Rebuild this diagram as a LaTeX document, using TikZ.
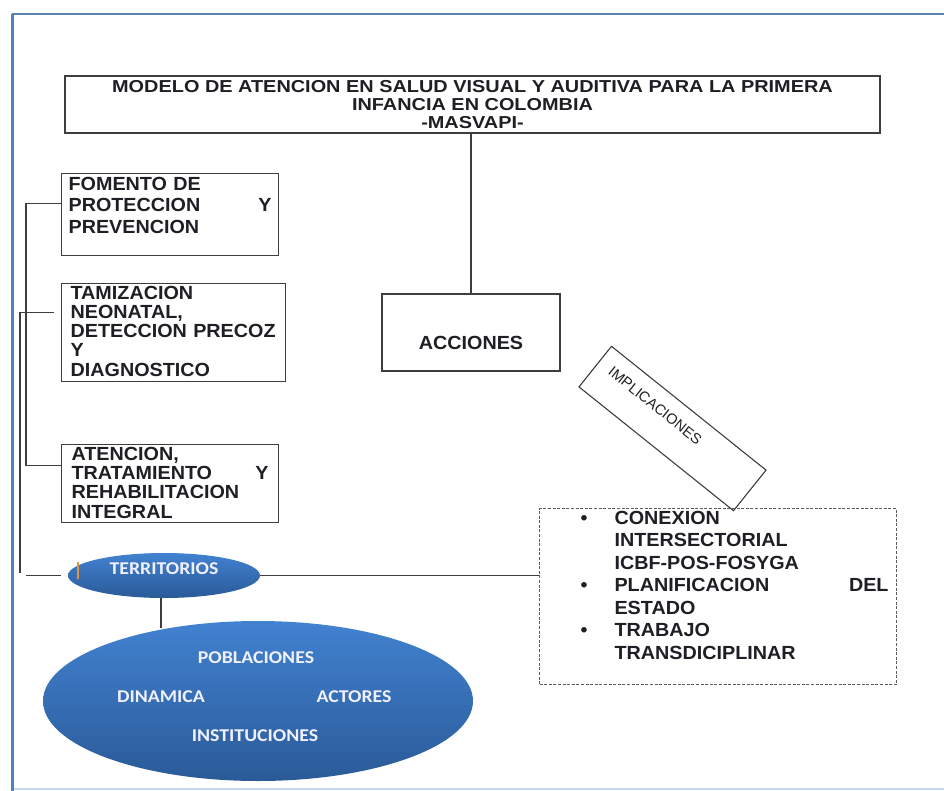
\documentclass[tikz,border=0pt]{standalone}
\usepackage{fontspec}
\setmainfont{Liberation Sans}
\newfontfamily\cajafont[FakeStretch=1.04]{Liberation Sans}
\newfontfamily\titulofont[FakeStretch=1.15]{Liberation Sans}
\newfontfamily\elipsefont[FakeStretch=1.1]{Carlito}
\usetikzlibrary{positioning,shapes.geometric}

\definecolor{marcoazul}{RGB}{79,129,189}
\definecolor{marcoclaro}{RGB}{200,216,236}
\definecolor{elipsearriba}{RGB}{66,130,208}
\definecolor{elipseabajo}{RGB}{42,90,152}
\definecolor{linea}{RGB}{62,62,62}
\definecolor{texto}{RGB}{32,30,36}
\definecolor{naranja}{RGB}{226,150,60}

\tikzset{
    caja/.style={draw=linea, line width=1.2pt, inner sep=0pt, text=texto,
        font=\cajafont\bfseries\fontsize{19}{19.3}\selectfont},
    titulo/.style={caja, font=\titulofont\bfseries\fontsize{17.3}{18}\selectfont},
    enlace/.style={draw=linea!85, line width=1.1pt, dash pattern=on 3pt off 1.6pt,
        inner sep=0pt, text=texto, font=\cajafont\bfseries\fontsize{19}{22.5}\selectfont},
    impl/.style={draw=linea, line width=1.1pt, inner sep=0pt, text=texto,
        font=\fontsize{14.6}{16}\selectfont},
    elipse/.style={ellipse, inner sep=0pt, top color=elipsearriba, bottom color=elipseabajo,
        text=white!94!blue, font=\elipsefont\bfseries\fontsize{18}{20}\selectfont},
    elipsetexto/.style={text=white!94!blue, font=\elipsefont\bfseries\fontsize{18}{20}\selectfont},
    conector/.style={draw=linea, line width=1.3pt},
}
\newcommand{\vineta}{\leavevmode\llap{\makebox[34pt][l]{\textbullet}}}

\begin{document}
\begin{tikzpicture}[x=1pt, y=-1pt]
    \useasboundingbox (0,0) rectangle (944,791);
    %% marco
    \draw[marcoazul!75!gray, line width=2.5pt] (12,14) -- (950,14);
    \draw[marcoclaro, line width=2pt] (12,789) -- (950,789);
    \draw[marcoazul, line width=3pt] (12,14) -- (12,795);

    %% titulo y acciones
    \node[titulo, minimum width=815pt, minimum height=57pt, align=center] (titulo) at (472.5,104.5)
        {MODELO DE ATENCION EN SALUD VISUAL Y AUDITIVA PARA LA PRIMERA\\INFANCIA EN COLOMBIA\\-MASVAPI-};
    \node[caja, minimum width=178pt, minimum height=77pt, text height=33pt, text depth=0pt] (acciones) at (471,332.5) {ACCIONES};

    %% cajas de la izquierda
    \node[caja, anchor=north west, inner xsep=7pt, text width=203pt, text height=16.5pt, text depth=65.5pt, align=left,
        font=\cajafont\bfseries\fontsize{19}{21.5}\selectfont] (fomento) at (61,173)
        {FOMENTO DE\\PROTECCION\hfill Y\\PREVENCION};
    \node[caja, anchor=north west, inner xsep=9pt, text width=206pt, text height=15.5pt, text depth=82.5pt, align=left] (tamiz) at (61,283)
        {TAMIZACION\\NEONATAL,\\DETECCION PRECOZ\\Y\\DIAGNOSTICO};
    \node[caja, anchor=north west, inner xsep=10pt, text width=197pt, text height=15.5pt, text depth=62.5pt, align=left] (atencion) at (61,444)
        {ATENCION,\\TRATAMIENTO\hfill Y\\REHABILITACION\\INTEGRAL};

    %% implicaciones
    \node[impl, rotate=-38.7, minimum height=52pt, text width=170pt, inner xsep=14pt, text height=8pt, text depth=12pt, align=left] (implic) at (672.5,428.5) {IMPLICACIONES};
    \node[enlace, anchor=north west, text width=357pt, text height=15.5pt, text depth=160.5pt, align=left] (enlaces) at (539,508)
        {\leftskip=75pt \rightskip=8pt plus 1fil
        \vineta CONEXION\\INTERSECTORIAL\\ICBF-POS-FOSYGA\\
        \vineta PLANIFICACION\hfill DEL\\ESTADO\\
        \vineta TRABAJO\\TRANSDICIPLINAR\par};

    %% territorios
    \node[elipse, minimum width=192pt, minimum height=45pt, text height=8pt, text depth=11pt] (territ) at (164,575.5) {TERRITORIOS};
    \draw[naranja, line width=2pt] (78,562) -- (78,579);
    \draw[conector] ([xshift=-3pt]territ.south) -- ++(0,30);
    \node[elipse, minimum width=430pt, minimum height=160pt] (pob) at (258,701) {};
    \coordinate (pobc) at (pob.center);
    \node[elipsetexto, above right=43pt and -2pt of pobc, anchor=center] (poblac) {POBLACIONES};
    \node[elipsetexto, above right=4pt and -97pt of pobc, anchor=center] (dinam) {DINAMICA};
    \node[elipsetexto, above right=4pt and 96pt of pobc, anchor=center] (actor) {ACTORES};
    \node[elipsetexto, above right=-35pt and -3pt of pobc, anchor=center] (instit) {INSTITUCIONES};

    %% conectores
    \draw[conector] (acciones.north |- titulo.south) -- (acciones.north);
    \draw[conector] ([yshift=11pt]fomento.west) -- ++(-35,0) |- ([yshift=18pt]atencion.west);
    \coordinate (esquina) at (20,573);
    \draw[conector] ([shift={(-7pt,20pt)}]tamiz.west) -| (esquina);
    \draw[conector] ([xshift=-42pt]territ.west) -- ([xshift=-7pt]territ.west);
    \draw[conector] (territ.east) -- (territ.east -| enlaces.west);
\end{tikzpicture}
\end{document}
